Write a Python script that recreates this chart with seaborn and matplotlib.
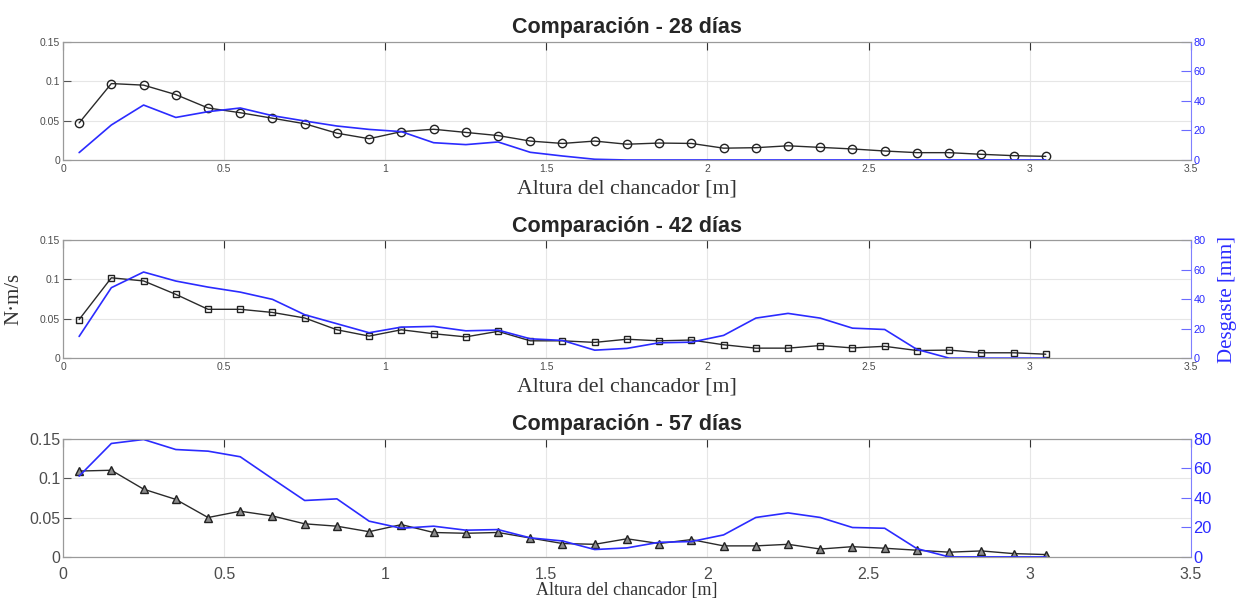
import matplotlib.pyplot as plt
import pandas as pd
import seaborn as sns

# Data
altura = [0.05, 0.15, 0.25, 0.35, 0.45, 0.55, 0.65, 0.75, 0.85, 0.95,
          1.05, 1.15, 1.25, 1.35, 1.45, 1.55, 1.65, 1.75, 1.85, 1.95,
          2.05, 2.15, 2.25, 2.35, 2.45, 2.55, 2.65, 2.75, 2.85, 2.95, 3.05]

pot_28 = [0.047, 0.097, 0.095, 0.083, 0.066, 0.060, 0.053, 0.046, 0.034, 0.027,
          0.036, 0.039, 0.035, 0.031, 0.024, 0.021, 0.024, 0.020, 0.0215, 0.021,
          0.015, 0.0156, 0.018, 0.016, 0.014, 0.0114, 0.0093, 0.0093, 0.0072, 0.0055, 0.0046]
desg_28 = [5, 23.7, 37.2, 28.8, 32.7, 35.2, 30, 26.4, 23, 20.7,
           19.2, 11.7, 10.4, 12.2, 5.2, 2.7, 0.5, 0, 0, 0,
           0, 0, 0, 0, 0, 0, 0, 0, 0, 0, 0]

pot_42 = [0.049, 0.102, 0.098, 0.081, 0.062, 0.062, 0.058, 0.051, 0.036, 0.028,
          0.036, 0.031, 0.027, 0.034, 0.022, 0.022, 0.020, 0.024, 0.022, 0.023,
          0.017, 0.0127, 0.0127, 0.016, 0.013, 0.015, 0.0097, 0.0102, 0.0068, 0.0068, 0.005]
desg_42 = [14.7, 47.7, 58.3, 52.2, 48.1, 44.7, 39.8, 29.4, 23.3, 17.2,
           21, 21.5, 18.5, 19, 13.1, 12, 5.4, 6.6, 10.4, 10.8,
           15.4, 27.1, 30.3, 27.1, 20.3, 19.4, 5.9, 0, 0, 0, 0]

pot_57 = [0.109, 0.110, 0.086, 0.073, 0.050, 0.058, 0.052, 0.042, 0.039, 0.032,
          0.041, 0.031, 0.030, 0.031, 0.024, 0.017, 0.016, 0.023, 0.017, 0.022,
          0.014, 0.014, 0.016, 0.010, 0.013, 0.011, 0.0085, 0.006, 0.0076, 0.0042, 0.003]
desg_57 = [54.7, 76.8, 79.5, 72.7, 71.6, 67.8, 52.9, 38.2, 39.3, 24.2,
           19.4, 20.8, 18.1, 18.5, 12.9, 10.8, 5, 6.1, 9.9, 10.4,
           14.9, 26.7, 29.8, 26.7, 19.9, 19.4, 5.6, 0, 0, 0, 0]

titulos = ['Comparación - 28 días', 'Comparación - 42 días', 'Comparación - 57 días']

sns.set_style('white')
plt.rcParams['font.family'] = ['Liberation Sans', 'DejaVu Sans']

fig = plt.figure(figsize=(12.38, 6.06), dpi=100)

blue = '#2b2bff'
tick_gray = '#4d4d4d'
serif = ['Liberation Serif', 'DejaVu Serif']

# (potencia, desgaste, marker, facecolor, bottom, ticksize, labelsize, xtick pad, xlabel pad)
panels = [
    (pot_28, desg_28, 'o', 'none', 0.736, 7.5, 15.7, 3, 4),
    (pot_42, desg_42, 's', 'none', 0.409, 7.5, 15.7, 3, 4),
    (pot_57, desg_57, '^', '#8c8c8c', 0.081, 11.5, 13, 7, 0),
]

for i, (pot, desg, mk, mfc, bottom, tfs, lfs, xpad, lpad) in enumerate(panels):
    df = pd.DataFrame({'altura': altura, 'pot': pot, 'desg': desg})
    ax = fig.add_axes([0.0509, bottom, 0.911, 0.195])
    ax2 = ax.twinx()

    sns.lineplot(data=df, x='altura', y='pot', ax=ax, color='#2a2a2a', lw=1.0,
                 marker=mk, markersize=6 if mk != 's' else 5,
                 markerfacecolor=mfc, markeredgecolor='#222222', markeredgewidth=1.0)
    sns.lineplot(data=df, x='altura', y='desg', ax=ax2, color=blue, lw=1.2)

    ax.set_xlim(0, 3.5)
    ax.set_ylim(0, 0.15)
    ax2.set_ylim(0, 80)
    ax.set_xticks([0, 0.5, 1, 1.5, 2, 2.5, 3, 3.5], ['0', '0.5', '1', '1.5', '2', '2.5', '3', '3.5'])
    ax.set_yticks([0, 0.05, 0.1, 0.15], ['0', '0.05', '0.1', '0.15'])
    ax2.set_yticks([0, 20, 40, 60, 80])
    ax.grid(True, color='#e6e6e6', lw=0.8)
    ax.set_axisbelow(True)

    ax.tick_params(axis='x', direction='in', length=6, width=0.8, colors='#333333',
                   labelcolor=tick_gray, labelsize=tfs, top=True, pad=xpad)
    ax.tick_params(axis='y', direction='in', length=6, width=0.8, colors='#555555',
                   labelcolor=tick_gray, labelsize=tfs, pad=2)
    ax2.tick_params(axis='y', direction='in', length=7, width=0.8, colors='#6b6bff',
                    labelcolor=blue, labelsize=tfs + 0.3, pad=2)
    for s in ['left', 'bottom', 'top']:
        ax.spines[s].set_color('#9a9a9a')
        ax2.spines[s].set_color('#9a9a9a')
    ax2.spines['right'].set_color('#8080ff')
    ax.spines['right'].set_visible(False)

    ax.set_xlabel('Altura del chancador [m]', family=serif, fontsize=lfs, color='#333333', labelpad=lpad)
    ax.set_ylabel('')
    ax2.set_ylabel('')
    ax.set_title(titulos[i], fontsize=15.5, fontweight='bold', pad=6)

    if i == 1:
        ax.set_ylabel('N·m/s', family=serif, fontsize=15, color='#333333')
        ax.yaxis.set_label_coords(-0.035, 0.5)
        ax2.set_ylabel('Desgaste [mm]', family=serif, fontsize=15, color=blue)
        ax2.yaxis.set_label_coords(1.024, 0.5)

fig.savefig('out.png', dpi=100)
